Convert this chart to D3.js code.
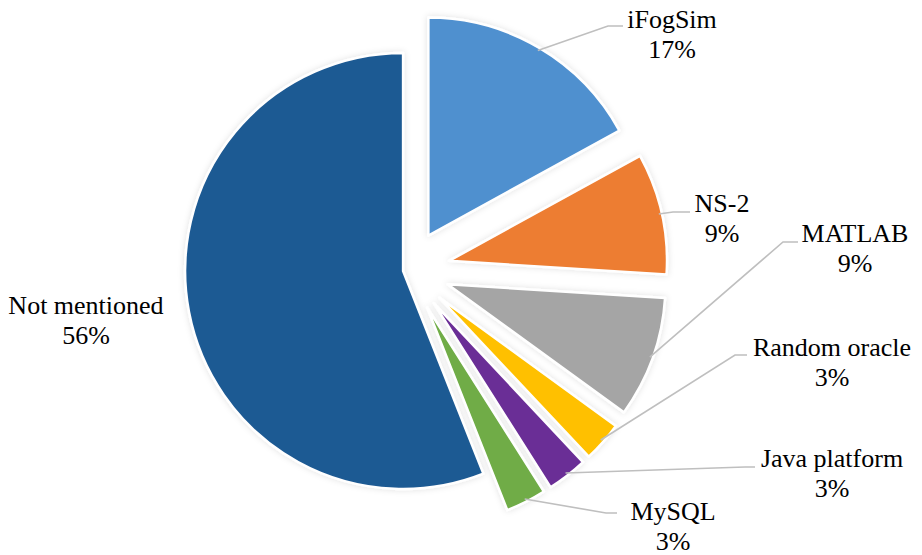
<!DOCTYPE html>
<html>
<head>
<meta charset="utf-8">
<script src="https://cdn.jsdelivr.net/npm/d3@7"></script>
<style>
  html, body { margin: 0; padding: 0; background: #fff; }
  svg { display: block; }
</style>
</head>
<body>
<svg id="chart" width="922" height="555"></svg>
<script>
// ---- data ----
const categories = ["iFogSim", "NS-2", "MATLAB", "Random oracle", "Java platform", "MySQL", "Not mentioned"];
const values = [17, 9, 9, 3, 3, 3, 56];
const percentLabels = ["17%", "9%", "9%", "3%", "3%", "3%", "56%"];

// ---- style / layout ----
const colors = ["#5090cf", "#ed7d31", "#a5a5a5", "#ffc000", "#6b2e96", "#6fac46", "#1f5a93"];
const explode = [40, 42, 42, 42, 42, 42, 5];
const cx = 408, cy = 270, radius = 218;
// label layout: text centre x, first baseline y, leader elbow x/y, leader end x (null = no leader)
const labelLayout = [
  { tx: 672, ty: 28,  ex: 608, ey: 26,  endX: 623 },
  { tx: 722, ty: 212, ex: 673, ey: 212, endX: 690 },
  { tx: 855, ty: 242, ex: 783, ey: 242, endX: 798 },
  { tx: 832, ty: 356, ex: 735, ey: 355, endX: 747 },
  { tx: 832, ty: 467, ex: 745, ey: 467, endX: 755 },
  { tx: 673, ty: 520, ex: 606, ey: 513, endX: 617 },
  { tx: 86,  ty: 314, ex: null, ey: null, endX: null }
];
const lineGap = 30;

const svg = d3.select("#chart");
const defs = svg.append("defs");
const f = defs.append("filter").attr("id", "glow")
  .attr("x", "-20%").attr("y", "-20%").attr("width", "140%").attr("height", "140%");
f.append("feDropShadow").attr("dx", 0).attr("dy", 0).attr("stdDeviation", 3)
  .attr("flood-color", "#000").attr("flood-opacity", 0.12);

const table = categories.map((c, i) => ({ name: c, value: values[i], pct: percentLabels[i], i }));
const pie = d3.pie().value(d => d.value).sort(null).startAngle(0).endAngle(2 * Math.PI);
const arcs = pie(table);
const arc = d3.arc().innerRadius(0).outerRadius(radius);

const g = svg.append("g").attr("transform", `translate(${cx},${cy})`);

function offset(a, e) {
  const mid = (a.startAngle + a.endAngle) / 2;
  return [e * Math.sin(mid), -e * Math.cos(mid)];
}

g.selectAll("path.slice").data(arcs).enter().append("path")
  .attr("class", "slice")
  .attr("d", arc)
  .attr("transform", d => { const o = offset(d, explode[d.index]); return `translate(${o[0]},${o[1]})`; })
  .attr("fill", d => colors[d.index])
  .attr("stroke", "#fff")
  .attr("stroke-width", 2.5)
  .attr("stroke-linejoin", "round")
  .attr("filter", "url(#glow)");

// leader lines
arcs.forEach(d => {
  const L = labelLayout[d.index];
  if (L.ex === null) return;
  const o = offset(d, explode[d.index]);
  const mid = (d.startAngle + d.endAngle) / 2;
  const r0 = radius - 3;
  const sx = cx + o[0] + r0 * Math.sin(mid);
  const sy = cy + o[1] - r0 * Math.cos(mid);
  const path = d3.path();
  path.moveTo(sx, sy);
  path.lineTo(L.ex, L.ey);
  path.lineTo(L.endX, L.ey);
  svg.append("path").attr("d", path.toString())
    .attr("fill", "none").attr("stroke", "#bfbfbf").attr("stroke-width", 1.6);
});

// labels
const labels = svg.selectAll("text.lbl").data(arcs).enter().append("text")
  .attr("class", "lbl")
  .attr("text-anchor", "middle")
  .attr("font-family", "'Liberation Serif', 'Times New Roman', Times, serif")
  .attr("font-size", 26)
  .attr("fill", "#000");
labels.append("tspan")
  .attr("x", d => labelLayout[d.index].tx)
  .attr("y", d => labelLayout[d.index].ty)
  .text(d => d.data.name);
labels.append("tspan")
  .attr("x", d => labelLayout[d.index].tx)
  .attr("y", d => labelLayout[d.index].ty + lineGap)
  .text(d => d.data.pct);
</script>
</body>
</html>
